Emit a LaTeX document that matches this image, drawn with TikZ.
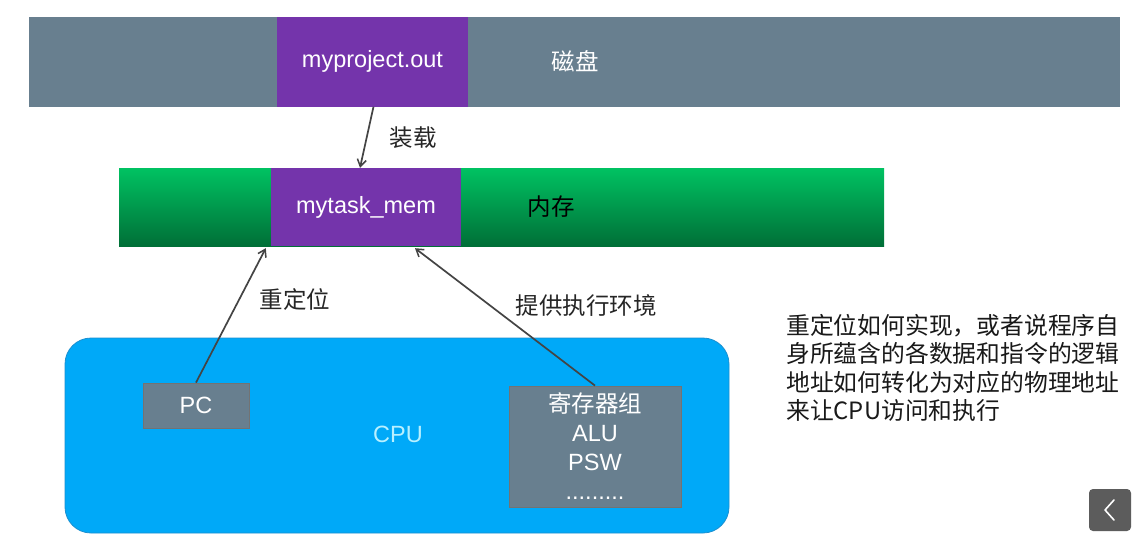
\documentclass[tikz,border=0pt]{standalone}
\usepackage{fontspec}
\setmainfont{Liberation Sans}
\newfontfamily\cjk{Noto Sans CJK SC}
\usetikzlibrary{arrows.meta}
\definecolor{diskgray}{HTML}{687F8F}
\definecolor{filepurple}{HTML}{7434AB}
\definecolor{memtop}{HTML}{00C262}
\definecolor{membot}{HTML}{006F37}
\definecolor{cpublue}{HTML}{00A9F8}
\definecolor{cpuedge}{HTML}{1A8FD0}
\definecolor{cputext}{HTML}{B8F0FF}
\definecolor{boxgray}{HTML}{687F8F}
\definecolor{arrowgray}{HTML}{444444}
\definecolor{btngray}{HTML}{5C5C5C}
\tikzset{
  txt/.style={font=\fontsize{23.5}{28}\selectfont},
  bar/.style={inner sep=0pt, minimum height=#1},
  purplebox/.style={fill=filepurple, inner sep=0pt, text=white, txt},
  graybox/.style={fill=boxgray, draw=black!55, line width=0.8pt, text=white, txt, inner sep=0pt},
  conn/.style={draw=arrowgray, line width=1.7pt, -{Straight Barb[length=7pt,width=9pt,line width=1.5pt]}},
  lbl/.style={txt, text=black!85}
}
\begin{document}
\begin{tikzpicture}[x=1pt,y=-1pt]
\useasboundingbox (0,0) rectangle (1148,549);
\fill[white] (0,0) rectangle (1148,549);
% disk
\node[bar=90pt, fill=diskgray, minimum width=1091pt] (disk) at (574.5,61.5) {};
\node[purplebox, minimum width=191pt, minimum height=90pt] (dfile) at (372.5,61.5) {myproject.out};
\node[txt, text=white] (disklbl) at (575,61.5) {\cjk 磁盘};
% memory
\node[bar=78pt, top color=memtop, bottom color=membot, minimum width=765pt] (mem) at (501.5,207) {};
\node[purplebox, minimum width=190pt, minimum height=78pt] (mfile) at (366,207) {mytask\_mem};
\node[txt, text=black] (memlbl) at (551,207) {\cjk 内存};
% CPU
\node[fill=cpublue, draw=cpuedge, line width=0.8pt, rounded corners=26pt, minimum width=664pt, minimum height=195pt, inner sep=0pt] (cpu) at (397,435.5) {};
\node[txt, text=cputext] (cpulbl) at (398,434) {CPU};
\node[graybox, minimum width=106pt, minimum height=45pt] (pc) at (196,405.5) {PC};
\node[graybox, minimum width=172pt, minimum height=121pt, align=center, font=\fontsize{23.5}{29}\selectfont] (reg) at (595,446.5) {{\cjk 寄存器组}\\ALU\\PSW\\.........};
% connectors
\draw[conn] ([xshift=1pt]dfile.south) -- ([xshift=-6pt]mfile.north);
\draw[conn] (pc.north) -- ([xshift=-5pt,yshift=-2pt]mfile.south west);
\draw[conn] (reg.north) -- ([xshift=49pt,yshift=-2pt]mfile.south);
% labels
\node[lbl] (l1) at (413,138) {\cjk 装载};
\node[lbl] (l2) at (295,300) {\cjk 重定位};
\node[lbl] (l3) at (586,306) {\cjk 提供执行环境};
% note
\node[anchor=north west, align=left, inner sep=0pt, text=black!90, font=\cjk\fontsize{23.8}{28.5}\selectfont] (note) at (786,314)
 {重定位如何实现，或者说程序自\\身所蕴含的各数据和指令的逻辑\\地址如何转化为对应的物理地址\\来让CPU访问和执行};
% back button
\node[fill=btngray, rounded corners=4pt, minimum width=42pt, minimum height=42pt, inner sep=0pt] (btn) at (1110,510) {};
\draw[white, line width=1.6pt, line cap=round, line join=round] ([xshift=4pt,yshift=10pt]btn.center) -- ([xshift=-5pt]btn.center) -- ([xshift=4pt,yshift=-10pt]btn.center);
\end{tikzpicture}
\end{document}
